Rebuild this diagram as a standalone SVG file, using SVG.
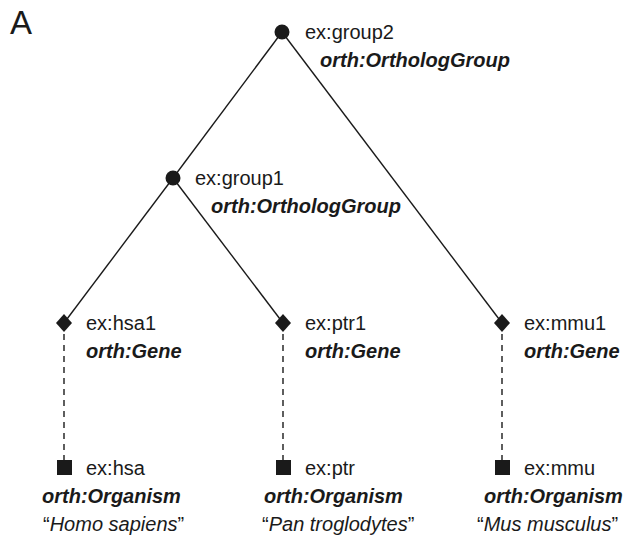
<svg xmlns="http://www.w3.org/2000/svg" width="626" height="540" viewBox="0 0 626 540">
<style>
.t{font-family:"Liberation Sans",Arial,sans-serif;font-size:20px;fill:#1a1a1a}
.b{font-weight:bold;font-style:italic}
.i{font-style:italic}
.e{stroke:#1a1a1a;stroke-width:1.4;fill:none}
.d{stroke-dasharray:6,5}
.n{fill:#1a1a1a}
</style>
<rect width="626" height="540" fill="#fff"/>
<text x="10" y="34" class="t" style="font-size:33px">A</text>
<g id="connectors">
<line class="e" x1="282" y1="32" x2="173" y2="178"/>
<line class="e" x1="282" y1="32" x2="502" y2="323"/>
<line class="e" x1="173" y1="178" x2="64" y2="323"/>
<line class="e" x1="173" y1="178" x2="283" y2="323"/>
<line class="e d" x1="64" y1="323" x2="64" y2="467"/>
<line class="e d" x1="283" y1="323" x2="283" y2="467"/>
<line class="e d" x1="502" y1="323" x2="502" y2="467"/>
</g>
<g id="group2">
<circle class="n" cx="282" cy="32" r="7.5"/>
<text class="t" x="305" y="39">ex:group2</text>
<text class="t b" x="320" y="67">orth:OrthologGroup</text>
</g>
<g id="group1">
<circle class="n" cx="173" cy="178" r="7.5"/>
<text class="t" x="195" y="185">ex:group1</text>
<text class="t b" x="211" y="213">orth:OrthologGroup</text>
</g>
<g id="hsa1">
<path class="n" d="M64,314 L72,323 L64,332 L56,323Z"/>
<text class="t" x="86" y="330">ex:hsa1</text>
<text class="t b" x="86" y="358">orth:Gene</text>
</g>
<g id="ptr1">
<path class="n" d="M283,314 L291,323 L283,332 L275,323Z"/>
<text class="t" x="305" y="330">ex:ptr1</text>
<text class="t b" x="305" y="358">orth:Gene</text>
</g>
<g id="mmu1">
<path class="n" d="M502,314 L510,323 L502,332 L494,323Z"/>
<text class="t" x="524" y="330">ex:mmu1</text>
<text class="t b" x="524" y="358">orth:Gene</text>
</g>
<g id="hsa">
<rect class="n" x="57" y="460" width="15" height="15"/>
<text class="t" x="86" y="475">ex:hsa</text>
<text class="t b" x="42" y="503">orth:Organism</text>
<text class="t" x="43" y="531">“<tspan class="i">Homo sapiens</tspan>”</text>
</g>
<g id="ptr">
<rect class="n" x="276" y="460" width="15" height="15"/>
<text class="t" x="305" y="475">ex:ptr</text>
<text class="t b" x="264" y="503">orth:Organism</text>
<text class="t" x="262" y="531">“<tspan class="i">Pan troglodytes</tspan>”</text>
</g>
<g id="mmu">
<rect class="n" x="495" y="460" width="15" height="15"/>
<text class="t" x="524" y="475">ex:mmu</text>
<text class="t b" x="484" y="503">orth:Organism</text>
<text class="t" x="477" y="531">“<tspan class="i">Mus musculus</tspan>”</text>
</g>
</svg>
